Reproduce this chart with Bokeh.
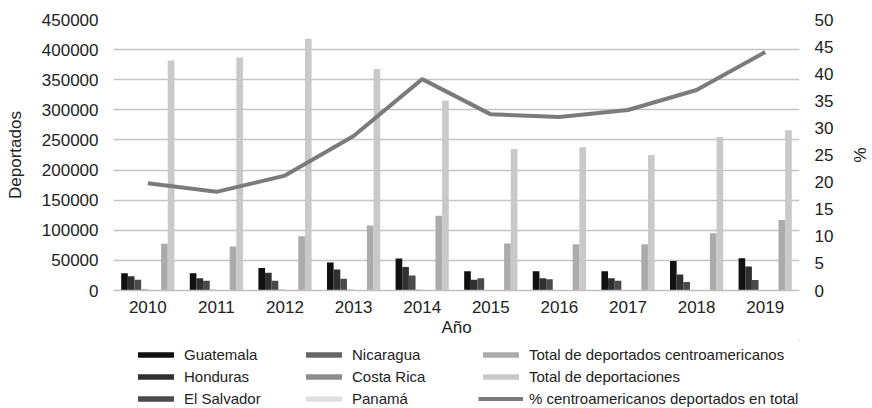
from bokeh.plotting import figure
from bokeh.layouts import column
from bokeh.models import (FactorRange, Range1d, LinearAxis, Legend, LegendItem,
                          FixedTicker, BasicTickFormatter)
from bokeh.transform import dodge
from bokeh.embed import file_html
from bokeh.resources import INLINE

years = ["2010", "2011", "2012", "2013", "2014", "2015", "2016", "2017", "2018", "2019"]
guatemala = [28500, 28500, 37500, 46500, 53000, 32000, 32000, 32000, 49000, 53500]
honduras = [23500, 20500, 29500, 35000, 39000, 18000, 20500, 20500, 26500, 40000]
el_salvador = [18000, 16000, 16000, 19500, 25000, 20500, 18500, 16000, 14000, 17500]
nicaragua = [1600, 1400, 1300, 1300, 1200, 900, 800, 800, 700, 1000]
costa_rica = [400, 350, 350, 350, 350, 300, 250, 250, 250, 300]
panama = [150, 150, 150, 150, 100, 100, 100, 100, 100, 100]
total_ca = [77500, 73000, 90000, 108000, 124000, 78000, 77000, 77000, 95000, 117000]
total = [382000, 387000, 418000, 368000, 315000, 235000, 238000, 225000, 255000, 266000]
pct = [19.8, 18.2, 21.2, 28.5, 39.0, 32.5, 32.0, 33.3, 37.0, 44.0]

left_ticks = list(range(0, 450001, 50000))
right_ticks = list(range(0, 51, 5))

FONT = "Liberation Sans"
TXT = "#222222"

p = figure(x_range=FactorRange(factors=years, range_padding=0),
           y_range=Range1d(0, 450000),
           width=872, height=340, output_backend="svg", toolbar_location=None,
           min_border_left=113, min_border_right=60, min_border_top=19,
           min_border_bottom=50)
p.extra_y_ranges = {"pct": Range1d(0, 50)}
p.outline_line_color = None
p.background_fill_color = "white"
p.border_fill_color = "white"

series = [
    ("Guatemala", guatemala, "#111111"),
    ("Honduras", honduras, "#303030"),
    ("El Salvador", el_salvador, "#4a4a4a"),
    ("Nicaragua", nicaragua, "#666666"),
    ("Costa Rica", costa_rica, "#8c8c8c"),
    ("Panamá", panama, "#e0e0e0"),
    ("Total de deportados centroamericanos", total_ca, "#ababab"),
    ("Total de deportaciones", total, "#c9c9c9"),
]
LINE_LABEL = "% centroamericanos deportados en total"
LINE_COLOR = "#7b7b7b"

w = 0.097
data = {"x": years}
for i, (name, vals, col) in enumerate(series):
    data["s%d" % i] = vals
for i, (name, vals, col) in enumerate(series):
    p.vbar(x=dodge("x", (i - 3.5) * w, range=p.x_range), top="s%d" % i,
           width=w, source=data, fill_color=col, line_color=None)

p.line(x=years, y=pct, y_range_name="pct", line_width=4, line_color=LINE_COLOR)

# axes
p.yaxis.ticker = FixedTicker(ticks=left_ticks)
p.yaxis.formatter = BasicTickFormatter(use_scientific=False)
p.yaxis.axis_label = "Deportados"
ra = LinearAxis(y_range_name="pct", ticker=FixedTicker(ticks=right_ticks), axis_label="%")
p.add_layout(ra, "right")

for ax in [p.yaxis[0], ra]:
    ax.axis_line_color = None
    ax.major_tick_line_color = None
    ax.minor_tick_line_color = None
    ax.major_label_text_font = FONT
    ax.major_label_text_font_size = "17px"
    ax.major_label_text_color = TXT
    ax.axis_label_text_font = FONT
    ax.axis_label_text_font_size = "17px"
    ax.axis_label_text_font_style = "normal"
    ax.axis_label_text_color = TXT
    ax.major_label_standoff = 9
    ax.axis_label_standoff = 14

p.xaxis.axis_label = "Año"
p.xaxis.axis_line_color = "#c0c0c0"
p.xaxis.axis_line_width = 1.5
p.xaxis.major_tick_line_color = None
p.xaxis.minor_tick_line_color = None
p.xaxis.major_label_text_font = FONT
p.xaxis.major_label_text_font_size = "17px"
p.xaxis.major_label_text_color = TXT
p.xaxis.major_label_standoff = 4
p.xaxis.axis_label_text_font = FONT
p.xaxis.axis_label_text_font_size = "17px"
p.xaxis.axis_label_text_font_style = "normal"
p.xaxis.axis_label_text_color = TXT
p.xaxis.axis_label_standoff = 2

p.xgrid.grid_line_color = None
p.ygrid.grid_line_color = "#c4c4c4"
p.ygrid.grid_line_width = 1.5

# legend strip below the chart (its frame is aligned with the chart frame)
lf = figure(width=872, height=68, output_backend="svg", toolbar_location=None,
            x_range=Range1d(0, 1), y_range=Range1d(0, 1),
            x_axis_type=None, y_axis_type=None,
            min_border_left=113, min_border_right=60, min_border_top=0, min_border_bottom=0)
lf.outline_line_color = None
lf.xgrid.grid_line_color = None
lf.ygrid.grid_line_color = None

# legend proxies: one point each, placed outside the visible range
swatches = []
for name, vals, col in series:
    r = lf.vbar(x=[5], top=[5], bottom=[4], width=0.1, fill_color=col, line_color=None)
    swatches.append((name, r))
lr = lf.line(x=[5, 6], y=[5, 5], line_width=4, line_color=LINE_COLOR)
swatches.append((LINE_LABEL, lr))

groups = [swatches[0:3], swatches[3:6], swatches[6:9]]
xs = [20, 188, 365]
for g, x in zip(groups, xs):
    lg = Legend(items=[LegendItem(label=n, renderers=[r]) for n, r in g],
                location=(x, 0), orientation="vertical",
                glyph_width=45, glyph_height=7, label_standoff=6,
                label_height=20, spacing=2, padding=0, margin=0,
                border_line_color=None, background_fill_alpha=0,
                label_text_font=FONT, label_text_font_size="15px",
                label_text_color=TXT)
    lf.add_layout(lg, "center")

open("out.html", "w").write(file_html(column(p, lf, spacing=0), INLINE))
